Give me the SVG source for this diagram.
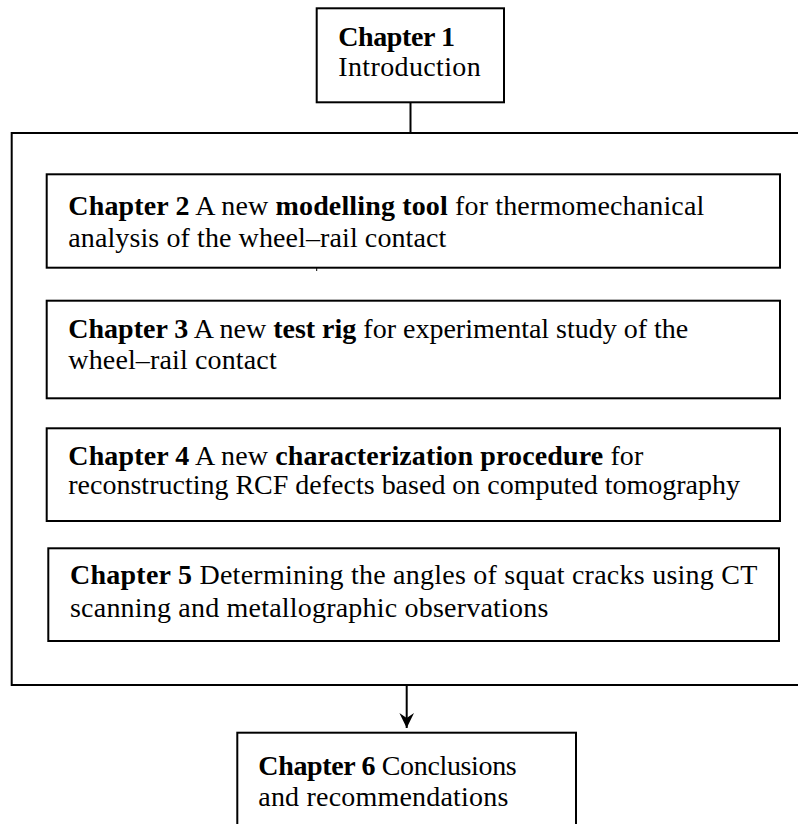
<svg xmlns="http://www.w3.org/2000/svg" width="798" height="824" viewBox="0 0 798 824">
  <style>
    .box { fill: #ffffff; stroke: #000000; stroke-width: 2; }
    .frame { fill: none; stroke: #000000; stroke-width: 2; }
    .conn { fill: none; stroke: #000000; stroke-width: 2; }
    .tick { fill: none; stroke: #000000; stroke-width: 1; }
    text { font-family: "Liberation Serif", "DejaVu Serif", serif; font-size: 28px; fill: #000000; }
    .b { font-weight: bold; }
  </style>
  <defs>
    <marker id="arrow" markerUnits="userSpaceOnUse" viewBox="0 0 16 16" markerWidth="16" markerHeight="16" refX="15" refY="8" orient="auto">
      <path d="M0,0.7 L15,8 L0,15.3 L5,8 Z" fill="#000000"/>
    </marker>
  </defs>

  <g id="group-frame">
    <rect class="frame" x="11.7" y="133" width="800" height="552"/>
  </g>

  <g id="connectors">
    <line class="conn" x1="410.5" y1="102.3" x2="410.5" y2="133"/>
    <line class="conn" x1="406.7" y1="686" x2="406.7" y2="728" marker-end="url(#arrow)"/>
    <line class="tick" x1="316.7" y1="268" x2="316.7" y2="271"/>
  </g>

  <g id="chapter1">
    <rect class="box" x="316.7" y="8.3" width="187.3" height="94"/>
    <text x="338.3" y="45.7" textLength="116.7" lengthAdjust="spacing" class="b">Chapter 1</text>
    <text x="338.3" y="76" textLength="142.4" lengthAdjust="spacing">Introduction</text>
  </g>

  <g id="chapter2">
    <rect class="box" x="46.7" y="174.3" width="733.3" height="93.4"/>
    <text x="68.3" y="215" textLength="636" lengthAdjust="spacing"><tspan class="b">Chapter 2</tspan> A new <tspan class="b">modelling tool</tspan> for thermomechanical</text>
    <text x="68.3" y="247.3" textLength="378" lengthAdjust="spacing">analysis of the wheel–rail contact</text>
  </g>

  <g id="chapter3">
    <rect class="box" x="46.7" y="300.7" width="733.3" height="97.6"/>
    <text x="68.3" y="338.3" textLength="620" lengthAdjust="spacing"><tspan class="b">Chapter 3</tspan> A new <tspan class="b">test rig</tspan> for experimental study of the</text>
    <text x="68.3" y="369" textLength="208.4" lengthAdjust="spacing">wheel–rail contact</text>
  </g>

  <g id="chapter4">
    <rect class="box" x="46.7" y="428.3" width="733.3" height="92.7"/>
    <text x="68.3" y="465" textLength="575" lengthAdjust="spacing"><tspan class="b">Chapter 4</tspan> A new <tspan class="b">characterization procedure</tspan> for</text>
    <text x="68.3" y="494" textLength="671.7" lengthAdjust="spacing">reconstructing RCF defects based on computed tomography</text>
  </g>

  <g id="chapter5">
    <rect class="box" x="48.3" y="548.3" width="730.7" height="92.7"/>
    <text x="70" y="584.3" textLength="687.3" lengthAdjust="spacing"><tspan class="b">Chapter 5</tspan> Determining the angles of squat cracks using CT</text>
    <text x="70" y="617.3" textLength="478.3" lengthAdjust="spacing">scanning and metallographic observations</text>
  </g>

  <g id="chapter6">
    <rect class="box" x="237.3" y="732.7" width="338.7" height="110"/>
    <text x="258.3" y="775" textLength="258.4" lengthAdjust="spacing"><tspan class="b">Chapter 6</tspan> Conclusions</text>
    <text x="258.3" y="806" textLength="250" lengthAdjust="spacing">and recommendations</text>
  </g>
</svg>
